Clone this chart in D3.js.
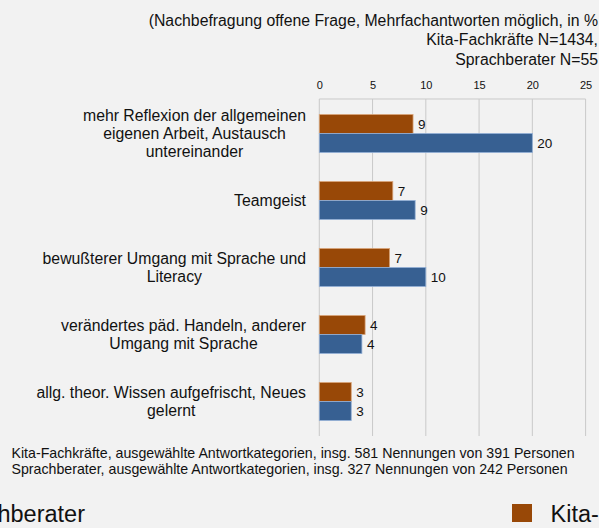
<!DOCTYPE html>
<html>
<head>
<meta charset="utf-8">
<script src="https://cdn.jsdelivr.net/npm/d3@7"></script>
<style>
  html, body { margin: 0; padding: 0; background: #f2f2f2; overflow: hidden; }
  svg { display: block; font-family: "Liberation Sans", Arial, sans-serif; }
</style>
</head>
<body>
<div id="chart"></div>
<script>
var w = 599, h = 528;

// data
var categories = [
    ["mehr Reflexion der allgemeinen", "eigenen Arbeit, Austausch", "untereinander"],
    ["Teamgeist"],
    ["bewußterer Umgang mit Sprache und", "Literacy"],
    ["verändertes päd. Handeln, anderer", "Umgang mit Sprache"],
    ["allg. theor. Wissen aufgefrischt, Neues", "gelernt"]
];
var seriesNames = ["Kita-Fachkräfte", "Sprachberater"];
var kitaValues = [8.8, 6.9, 6.6, 4.3, 3.0];
var beraterValues = [20.0, 9.0, 10.0, 4.0, 3.0];
var kitaLabels = ["9", "7", "7", "4", "3"];
var beraterLabels = ["20", "9", "10", "4", "3"];
var xTicks = [0, 5, 10, 15, 20, 25];
var titleLines = [
    "(Nachbefragung offene Frage, Mehrfachantworten möglich, in %",
    "Kita-Fachkräfte N=1434,",
    "Sprachberater N=55"
];
var noteLines = [
    "Kita-Fachkräfte, ausgewählte Antwortkategorien, insg. 581 Nennungen von 391 Personen",
    "Sprachberater, ausgewählte Antwortkategorien, insg. 327 Nennungen von 242 Personen"
];

var colors = ["#984807", "#376092"];
var strokes = ["#d9a57a", "#93b0d6"];

var svg = d3.select("#chart")
    .append("svg")
    .attr("width", w)
    .attr("height", h);

svg.append("rect")
    .attr("width", w)
    .attr("height", h)
    .attr("fill", "#f2f2f2");

//scales
var x = d3.scaleLinear().domain([0, 25]).range([319.3, 585.6]);
var y = d3.scaleBand()
    .domain(d3.range(categories.length))
    .range([100, 435])
    .paddingInner(0.433)
    .paddingOuter(0.2165);
var ySub = d3.scaleBand()
    .domain([0, 1])
    .range([0, y.bandwidth()]);

// title
svg.append("g")
    .selectAll("text")
    .data(titleLines)
    .enter()
    .append("text")
    .attr("x", 598)
    .attr("y", function(d, i) { return 25.5 + i * 19.5; })
    .attr("text-anchor", "end")
    .attr("font-size", 15.8)
    .attr("fill", "#111")
    .text(function(d) { return d; });

// gridlines + top axis
var grid = svg.append("g");
grid.selectAll("line")
    .data(xTicks)
    .enter()
    .append("line")
    .attr("x1", function(d) { return x(d); })
    .attr("x2", function(d) { return x(d); })
    .attr("y1", 99)
    .attr("y2", 436)
    .attr("stroke", "#c9c9c9")
    .attr("stroke-width", 1);
grid.append("line")
    .attr("x1", x(0))
    .attr("x2", x(25))
    .attr("y1", 99)
    .attr("y2", 99)
    .attr("stroke", "#c9c9c9");

var xAxis = d3.axisTop(x).tickValues(xTicks).tickSize(0).tickPadding(0);
var ax = svg.append("g")
    .attr("transform", "translate(0,89)")
    .call(xAxis);
ax.select(".domain").remove();
ax.selectAll("text")
    .attr("font-size", 11)
    .attr("font-family", "Liberation Sans, Arial, sans-serif")
    .attr("fill", "#111");

// bars
var seriesVals = [kitaValues, beraterValues];
var seriesLabs = [kitaLabels, beraterLabels];
var bars = svg.append("g");
seriesVals.forEach(function(vals, s) {
    bars.selectAll(".bar" + s)
        .data(vals)
        .enter()
        .append("rect")
        .attr("class", "bar" + s)
        .attr("x", x(0))
        .attr("y", function(d, i) { return y(i) + ySub(s); })
        .attr("width", function(d) { return x(d) - x(0); })
        .attr("height", ySub.bandwidth())
        .attr("fill", colors[s])
        .attr("stroke", strokes[s])
        .attr("stroke-width", 0.8);

    bars.selectAll(".lab" + s)
        .data(vals)
        .enter()
        .append("text")
        .attr("class", "lab" + s)
        .attr("x", function(d) { return x(d) + 5; })
        .attr("y", function(d, i) { return y(i) + ySub(s) + ySub.bandwidth() / 2; })
        .attr("dy", "0.35em")
        .attr("font-size", 13.5)
        .attr("fill", "#111")
        .text(function(d, i) { return seriesLabs[s][i]; });
});

// category labels: block right-aligned at 306, lines centered in block
var catG = svg.append("g");
categories.forEach(function(lines, i) {
    var g = catG.append("g");
    var lh = 18.3;
    var cy = y(i) + y.bandwidth() / 2;
    var texts = g.selectAll("text")
        .data(lines)
        .enter()
        .append("text")
        .attr("y", function(d, j) { return cy + (j - (lines.length - 1) / 2) * lh; })
        .attr("dy", "0.35em")
        .attr("font-size", 15.8)
        .attr("fill", "#111")
        .attr("text-anchor", "middle")
        .text(function(d) { return d; });
    var maxW = 0;
    texts.each(function() { maxW = Math.max(maxW, this.getComputedTextLength()); });
    texts.attr("x", 306 - maxW / 2);
});

// notes
svg.append("g")
    .selectAll("text")
    .data(noteLines)
    .enter()
    .append("text")
    .attr("x", 11.5)
    .attr("y", function(d, i) { return 458 + i * 16; })
    .attr("font-size", 14.2)
    .attr("fill", "#111")
    .text(function(d) { return d; });

// legend (cut off by page edges, as in the original)
var leg = svg.append("g");
var t1 = leg.append("text")
    .attr("x", 85)
    .attr("y", 522)
    .attr("text-anchor", "end")
    .attr("font-size", 23.5)
    .attr("fill", "#111")
    .text(seriesNames[1]);
var t1w = t1.node().getComputedTextLength();
leg.append("rect")
    .attr("x", 85 - t1w - 39)
    .attr("y", 504)
    .attr("width", 20)
    .attr("height", 18)
    .attr("fill", colors[1]);
leg.append("rect")
    .attr("x", 512)
    .attr("y", 504)
    .attr("width", 20)
    .attr("height", 18)
    .attr("fill", colors[0]);
leg.append("text")
    .attr("x", 550.5)
    .attr("y", 522)
    .attr("font-size", 23.5)
    .attr("fill", "#111")
    .text(seriesNames[0]);
</script>
</body>
</html>
